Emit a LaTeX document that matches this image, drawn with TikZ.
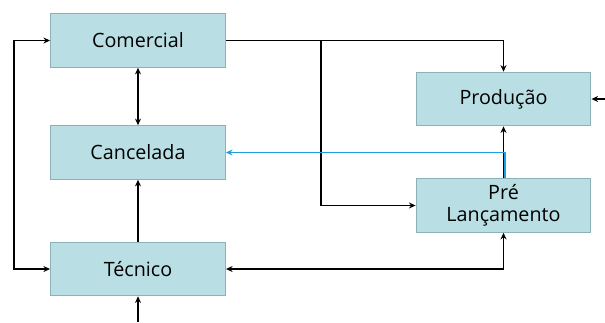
\documentclass[tikz,border=0pt]{standalone}
\usepackage{fontspec}
\setmainfont{Open Sans}
\usetikzlibrary{arrows.meta}
\definecolor{boxfill}{RGB}{185,223,228}
\definecolor{boxline}{RGB}{140,178,184}
\definecolor{flowblue}{RGB}{28,160,222}
\begin{document}
\begin{tikzpicture}[x=0.75pt,y=-0.75pt,
  >={Stealth[length=5pt,width=4.5pt]},
  box/.style={draw=boxline, fill=boxfill, line width=0.9pt,
    minimum width=131pt, minimum height=40pt, inner sep=0pt,
    align=center, font=\fontsize{14.8}{16.5}\selectfont},
  link/.style={line width=1.3pt, black},
  bluelink/.style={line width=1.3pt, flowblue}]
\useasboundingbox (0,0) rectangle (605,322);

% stages
\node[box] (com)  at (138,40.5)  {Comercial};
\node[box] (can)  at (138,152.5) {Cancelada};
\node[box] (tec)  at (138,269)   {Técnico};
\node[box] (prod) at (503.5,99)  {Produção};
\node[box] (pre)  at (503.5,205.5) {Pré\\Lançamento};

% helper points for free ends and bends
\coordinate (lx)    at (14,155);
\coordinate (bin)   at (138,322);
\coordinate (rin)   at (605,99);
\coordinate (split) at (321,40.5);

% connectors
\draw[link,<->] (com.west) -| (lx) |- (tec.west);
\draw[link,<->] (com) -- (can);
\draw[link,->] (tec) -- (can);
\draw[link,->] (bin) -- (tec);
\draw[link,->] (com.east) -| (prod.north);
\draw[link,->] (split) |- (pre.west);
\draw[link,->] (rin) -- (prod.east);
\draw[link,->] (pre.north) -- (prod.south);
\draw[link,<->] (tec.east) -| (pre.south);
\draw[bluelink,->] ([xshift=0.9pt]pre.north) |- (can.east);
\end{tikzpicture}
\end{document}
